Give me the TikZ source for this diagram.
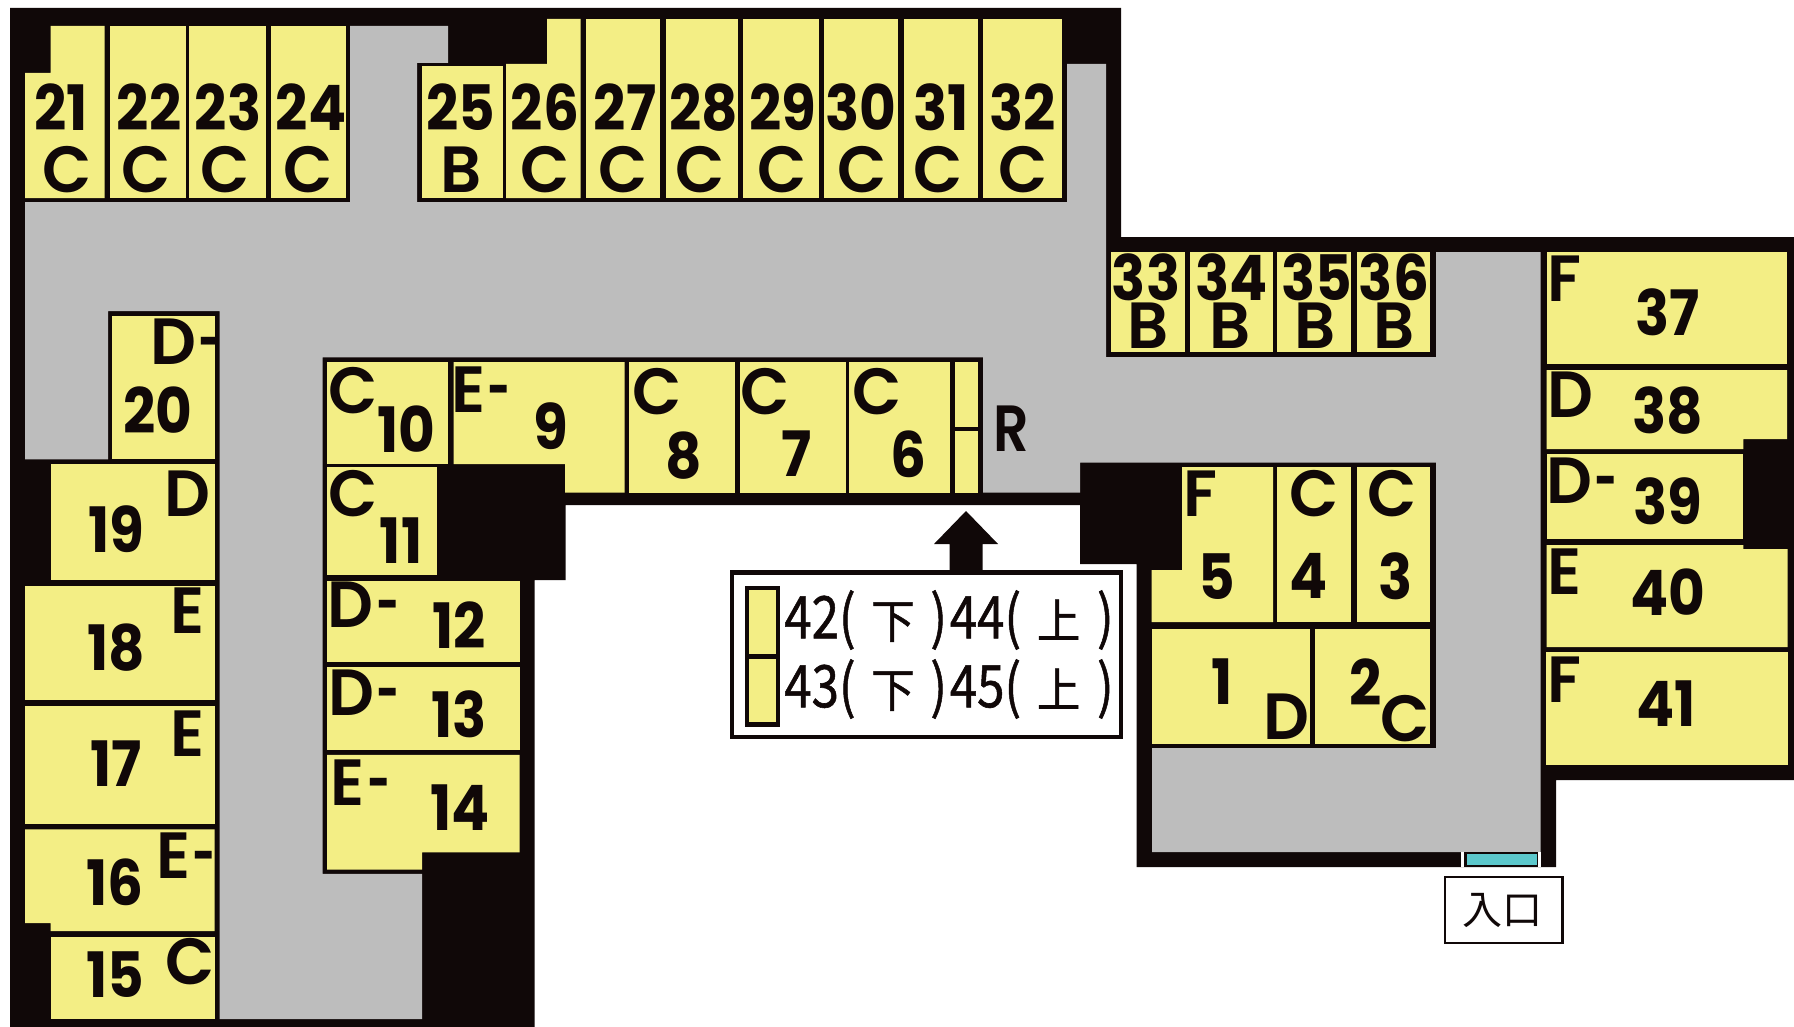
\documentclass[tikz,border=0pt]{standalone}
\usepackage{graphicx}
\usepackage{fontspec}
\newfontfamily\roomfont{Poppins SemiBold}
\newfontfamily\digfont{Poppins}
\newfontfamily\cjkfont{Noto Sans CJK JP}
\newfontfamily\legfont{Noto Sans CJK JP}[FakeBold=1]
\definecolor{wallc}{HTML}{100808}
\definecolor{roomc}{HTML}{F3EE85}
\definecolor{hallc}{HTML}{BDBDBD}
\definecolor{doorc}{HTML}{5CC8CC}
\newcommand\digs[1]{\scalebox{.9}[1]{#1}}
\newcommand\lets[1]{\scalebox{.98}[1]{#1}}
\newcommand\dsh{\kern2pt\scalebox{.62}[1]{-}}
\newcommand\kanji[1]{\scalebox{.88}[.8]{#1}}
\newcommand\lgl[2]{\scalebox{.84}[1]{#1(\hspace{14pt}\kanji{下}\hspace{14pt})\hspace{2.5pt}#2(\hspace{14pt}\kanji{上}\hspace{15pt})}}
\tikzset{
  wall/.style={fill=wallc,draw=none},
  hall/.style={fill=hallc,draw=none},
  room/.style={fill=roomc,draw=none},
  num/.style={inner sep=0pt,text=wallc,font=\digfont\bfseries\fontsize{47}{47}\selectfont},
  grade/.style={inner sep=0pt,xshift=1.5pt,text=wallc,font=\roomfont\fontsize{49}{49}\selectfont},
  legendtext/.style={inner sep=0pt,anchor=west,text=wallc,font=\legfont\fontsize{44}{44}\selectfont},
  entrytext/.style={inner sep=0pt,text=wallc,font=\cjkfont\fontsize{30}{30}\selectfont},
}
\newcommand\cellr[4]{\fill[room] (#1,#2) rectangle (#3,#4);}
\newcommand\nm[3]{\node[num] (n#3) at (#1,#2) {\digs{#3}};}
\newcommand\gd[4]{\node[grade] (g#4) at (#1,#2) {\lets{#3}};}
\begin{document}
\begin{tikzpicture}[x=0.75pt,y=-0.75pt]
\useasboundingbox (0,0) rectangle (1794,1027);
\fill[white] (0,0) rectangle (1794,1027);
% outer silhouette
\fill[wall] (10,8) -- (1121,8) -- (1121,237) -- (1794,237) -- (1794,780) -- (1556,780) -- (1556,867)
  -- (1136.6,867) -- (1136.6,564) -- (1080,564) -- (1080,505) -- (565.6,505) -- (565.6,580)
  -- (534.6,580) -- (534.6,1027) -- (10,1027) -- cycle;
% corridor
\fill[hall] (350,26) -- (448,26) -- (448,63) -- (417,63) -- (417,202) -- (1067,202) -- (1067,64)
  -- (1106,64) -- (1106,357) -- (1436,357) -- (1436,252) -- (1540.5,252) -- (1540.5,852)
  -- (1152,852) -- (1152,748) -- (1436,748) -- (1436,462.7) -- (1080,462.7) -- (1080,492.7)
  -- (983,492.7) -- (983,357.3) -- (322.6,357.3) -- (322.6,873.8) -- (422,873.8) -- (422,1019)
  -- (219.7,1019) -- (219.7,311) -- (108,311) -- (108,459.3) -- (25,459.3) -- (25,202) -- (350,202) -- cycle;
% top row
\fill[room] (25,198) -- (25,73) -- (50.5,73) -- (50.5,26) -- (104.5,26) -- (104.5,198) -- cycle;
\cellr{110}{26}{185.6}{198}
\cellr{189.4}{26}{266}{198}
\cellr{271}{26}{345.6}{198}
\cellr{422}{65.7}{503}{198}
\fill[room] (506,198) -- (506,64) -- (547,64) -- (547,19) -- (580.5,19) -- (580.5,198) -- cycle;
\cellr{586}{19}{660}{198}
\cellr{665.6}{19}{737.5}{198}
\cellr{742.5}{19}{818.6}{198}
\cellr{824}{19}{898}{198}
\cellr{904}{19}{978}{198}
\cellr{983}{19}{1062}{198}
% 33-36
\cellr{1111}{251.7}{1185}{351.7}
\cellr{1190}{251.7}{1273}{351.7}
\cellr{1277}{251.7}{1351}{351.7}
\cellr{1357}{251.7}{1430}{351.7}
% 37-41
\cellr{1546.7}{252}{1787}{364}
\fill[room] (1546.7,370) -- (1787,370) -- (1787,439) -- (1743.4,439) -- (1743.4,449) -- (1546.7,449) -- cycle;
\cellr{1546.7}{454}{1743.4}{539}
\fill[room] (1546.7,545) -- (1743.4,545) -- (1743.4,549) -- (1787.7,549) -- (1787.7,647) -- (1546.7,647) -- cycle;
\cellr{1545.7}{652}{1787.7}{765}
% centre block
\cellr{327}{362}{447.7}{464}
\fill[room] (453.5,362) -- (624.6,362) -- (624.6,492.7) -- (565,492.7) -- (565,464) -- (453.5,464) -- cycle;
\cellr{629}{362}{734.5}{492.7}
\cellr{740}{362}{846}{492.7}
\cellr{849}{362}{950}{492.7}
\cellr{955}{362}{978}{427}
\cellr{955}{431}{978}{492.7}
\cellr{327}{467}{437.4}{574.6}
\cellr{327}{580.7}{519.7}{662}
\cellr{327}{667.4}{519.7}{749.7}
\fill[room] (327,754.8) -- (519.7,754.8) -- (519.7,852.3) -- (422,852.3) -- (422,869.7) -- (327,869.7) -- cycle;
% left column
\cellr{112}{315.7}{214.7}{459}
\cellr{50.5}{464.3}{214.7}{580}
\cellr{25}{585.7}{214.7}{700}
\cellr{25}{705.7}{214.7}{823.7}
\fill[room] (25,829.4) -- (214.7,829.4) -- (214.7,931) -- (50.5,931) -- (50.5,923) -- (25,923) -- cycle;
\cellr{50.5}{937}{214.7}{1019}
% rooms 1-5
\fill[room] (1182,467) -- (1273,467) -- (1273,622) -- (1151.5,622) -- (1151.5,570) -- (1182,570) -- cycle;
\cellr{1277}{467}{1351}{622}
\cellr{1357}{467}{1430}{622}
\cellr{1152}{629}{1310}{744}
\cellr{1315}{629}{1430}{744}
% door
\fill[white] (1461,852) rectangle (1540.7,867);
\fill[wall] (1464,852) rectangle (1538,867);
\fill[doorc] (1466.7,854.3) rectangle (1536.7,865.3);
% arrow
\fill[wall] (966,511) -- (998,544) -- (982.6,544) -- (982.6,572) -- (949.5,572) -- (949.5,544) -- (934,544) -- cycle;
% legend
\draw[draw=wallc,fill=white,line width=3.4pt] (732.2,572.7) rectangle (1121,737);
\fill[wall] (745,585.7) rectangle (780,726.7);
\cellr{749}{590}{776}{654}
\cellr{749}{659}{776}{721.7}
\node[legendtext] (leg1) at (784,620) {\lgl{42}{44}};
\node[legendtext] (leg2) at (784,689) {\lgl{43}{45}};
% entry
\draw[draw=wallc,fill=white,line width=1.6pt] (1445,877) rectangle (1562.5,943);
\node[entrytext] (entry) at (1502,910) {入口};
% labels top row
\nm{61}{107.5}{21}\gd{65}{170}{C}{21}
\nm{149}{107.5}{22}\gd{144}{170}{C}{22}
\nm{228}{107.5}{23}\gd{223}{170}{C}{23}
\nm{311}{107.5}{24}\gd{306}{170}{C}{24}
\nm{461}{107.5}{25}\gd{459}{170}{B}{25}
\nm{545}{107.5}{26}\gd{543}{170}{C}{26}
\nm{625}{107.5}{27}\gd{621}{170}{C}{27}
\nm{703.5}{107.5}{28}\gd{698.5}{170}{C}{28}
\nm{783}{107.5}{29}\gd{780}{170}{C}{29}
\nm{861}{107.5}{30}\gd{860}{170}{C}{30}
\nm{941}{107.5}{31}\gd{936}{170}{C}{31}
\nm{1023}{107.5}{32}\gd{1021}{170}{C}{32}
\nm{1146}{277}{33}\gd{1146.5}{326}{B}{33}
\nm{1232}{277}{34}\gd{1228.5}{326}{B}{34}
\nm{1317}{277}{35}\gd{1313.5}{326}{B}{35}
\nm{1394}{277}{36}\gd{1392.5}{326}{B}{36}
\nm{1668}{312.5}{37}\gd{1562}{278.7}{F}{37}
\nm{1668}{411}{38}\gd{1568.7}{395}{D}{38}
\nm{1668}{500.8}{39}\gd{1580}{480.7}{D\dsh}{39}
\nm{1668}{592}{40}\gd{1563}{571.7}{E}{40}
\nm{1666}{704}{41}\gd{1562}{679.7}{F}{41}
\nm{158}{410}{20}\gd{184}{342}{D\dsh}{20}
\nm{406}{429}{10}\gd{351.5}{391}{C}{10}
\nm{551}{426}{9}\gd{479}{390}{E\dsh}{9}
\nm{684}{456}{8}\gd{655}{392}{C}{8}
\nm{797}{454}{7}\gd{763}{392}{C}{7}
\nm{908}{454}{6}\gd{875}{392}{C}{6}
\node[grade] (rR) at (1009,429) {\scalebox{.85}[1]{R}};
\nm{401}{541}{11}\gd{351.5}{494}{C}{11}
\nm{116}{529}{19}\gd{185.6}{494}{D}{19}
\nm{116}{647.4}{18}\gd{186}{611}{E}{18}
\nm{116}{764}{17}\gd{186}{733.6}{E}{17}
\nm{115}{882.7}{16}\gd{184}{855.5}{E\dsh}{16}
\nm{115.6}{974.5}{15}\gd{188}{962}{C}{15}
\nm{459}{625}{12}\gd{361.6}{605}{D\dsh}{12}
\nm{459.4}{714}{13}\gd{362}{693}{D\dsh}{13}
\nm{460}{808}{14}\gd{358.8}{782.3}{E\dsh}{14}
\nm{1217}{576.7}{5}\gd{1198.7}{494}{F}{5}
\nm{1309}{576}{4}\gd{1311.6}{494}{C}{4}
\nm{1396}{576}{3}\gd{1390}{494}{C}{3}
\nm{1222}{682}{1}\gd{1284.6}{717}{D}{1}
\nm{1366}{682}{2}\gd{1403}{718.5}{C}{2}
\end{tikzpicture}
\end{document}
